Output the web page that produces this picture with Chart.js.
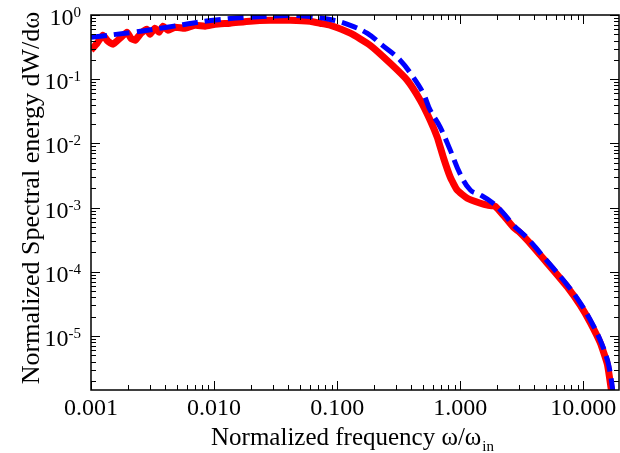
<!DOCTYPE html>
<html>
<head>
<meta charset="utf-8">
<script src="https://cdn.jsdelivr.net/npm/chart.js@4/dist/chart.umd.min.js"></script>
<style>
  html, body { margin: 0; padding: 0; background: #fff; }
  #wrap { width: 620px; height: 453px; position: relative; }
</style>
</head>
<body>
<div id="wrap"><canvas id="chart"></canvas></div>
<script>
// smooth model curve (blue dashed)
const freqModel = [0.001, 0.00219, 0.00415, 0.00982, 0.027, 0.05, 0.0877, 0.128, 0.175, 0.232, 0.325, 0.415, 0.5, 0.57, 0.687, 0.83, 1.0, 1.21, 1.46, 1.85, 2.24, 2.7, 3.51, 4.47, 5.7, 7.41, 9.46, 11.4, 13.7, 15.7, 16.9, 17.4];
const specModel = [0.45, 0.539, 0.646, 0.828, 0.956, 0.973, 0.85, 0.69, 0.52, 0.339, 0.198, 0.1074, 0.0605, 0.0329, 0.0179, 0.00785, 0.00332, 0.00187, 0.00157, 0.00117, 0.00082, 0.000533, 0.000334, 0.000196, 0.000114, 6.22e-5, 3.26e-5, 1.77e-5, 8.66e-6, 4.22e-6, 2.06e-6, 1.35e-6];

// simulated spectrum (red)
const freqSim = [0.001, 0.00112, 0.00125, 0.00137, 0.00151, 0.00172, 0.00196, 0.00211, 0.00228, 0.00255, 0.00285, 0.00302, 0.00331, 0.00357, 0.00385, 0.00423, 0.00482, 0.00581, 0.00701, 0.00845, 0.0102, 0.0135, 0.0196, 0.0285, 0.0415, 0.0603, 0.0727, 0.0877, 0.128, 0.185, 0.27, 0.371, 0.473, 0.57, 0.65, 0.728, 0.83, 0.946, 1.14, 1.46, 1.66, 1.92, 2.24, 2.7, 3.05, 3.51, 4.47, 5.7, 7.41, 9.46, 11.4, 13.7, 15.7, 16.9];
const specSim = [0.283, 0.363, 0.484, 0.391, 0.351, 0.435, 0.539, 0.435, 0.404, 0.52, 0.6, 0.501, 0.622, 0.539, 0.669, 0.579, 0.644, 0.622, 0.692, 0.669, 0.718, 0.744, 0.8, 0.828, 0.828, 0.8, 0.744, 0.692, 0.52, 0.338, 0.177, 0.0964, 0.0471, 0.023, 0.0125, 0.00611, 0.00298, 0.00187, 0.0014, 0.00117, 0.00109, 0.00105, 0.00076, 0.000495, 0.00041, 0.00031, 0.000182, 0.000106, 5.8e-5, 3.0e-5, 1.62e-5, 7.9e-6, 3.6e-6, 1.44e-6];

const xTickLabels = ['0.001', '0.010', '0.100', '1.000', '10.000'];
const xTickValues = [0.001, 0.01, 0.1, 1, 10];
const yTickExps = [0, -1, -2, -3, -4, -5];

const X_MIN = 0.001, X_MAX = 19.5;
const Y_MIN = 1.44e-6, Y_MAX = 1.0;
const serif = '"Liberation Serif", "DejaVu Serif", serif';

const toPoints = (xs, ys) => xs.map((x, i) => ({ x: x, y: ys[i] }));

// frame, inward ticks on all four sides, labels with superscripts / subscripts
const axesPlugin = {
  id: 'axesPlugin',
  afterDraw(chart) {
    const ctx = chart.ctx;
    const a = chart.chartArea;
    const xs = chart.scales.x, ys = chart.scales.y;
    ctx.save();
    ctx.strokeStyle = '#000';
    ctx.fillStyle = '#000';

    ctx.lineWidth = 1.5;
    ctx.strokeRect(a.left, a.top, a.right - a.left, a.bottom - a.top);

    ctx.lineWidth = 1;
    // x ticks
    for (let e = -3; e <= 1; e++) {
      for (let m = 1; m <= 9; m++) {
        const v = m * Math.pow(10, e);
        if (v < X_MIN || v > X_MAX) continue;
        const px = Math.round(xs.getPixelForValue(v)) + 0.5;
        const len = m === 1 ? 9 : 5;
        ctx.beginPath();
        ctx.moveTo(px, a.bottom); ctx.lineTo(px, a.bottom - len);
        ctx.moveTo(px, a.top); ctx.lineTo(px, a.top + len);
        ctx.stroke();
      }
    }
    // y ticks
    for (let e = -6; e <= 0; e++) {
      for (let m = 1; m <= 9; m++) {
        const v = m * Math.pow(10, e);
        if (v < Y_MIN || v > Y_MAX * 1.0001) continue;
        const py = Math.round(ys.getPixelForValue(v)) + 0.5;
        const len = m === 1 ? 9 : 5;
        ctx.beginPath();
        ctx.moveTo(a.left, py); ctx.lineTo(a.left + len, py);
        ctx.moveTo(a.right, py); ctx.lineTo(a.right - len, py);
        ctx.stroke();
      }
    }

    // x tick labels
    ctx.font = '24px ' + serif;
    ctx.textAlign = 'center';
    ctx.textBaseline = 'alphabetic';
    xTickValues.forEach((v, i) => {
      ctx.fillText(xTickLabels[i], xs.getPixelForValue(v), a.bottom + 25);
    });

    // y tick labels: 10 with superscript exponent
    yTickExps.forEach(exp => {
      const py = ys.getPixelForValue(Math.pow(10, exp));
      const sup = exp === 0 ? '0' : '-' + Math.abs(exp);
      ctx.font = '15px ' + serif;
      const wSup = ctx.measureText(sup).width;
      ctx.font = '24px ' + serif;
      const wBase = ctx.measureText('10').width;
      const right = a.left - 10;
      ctx.textAlign = 'left';
      ctx.fillText('10', right - wSup - wBase, py + 10);
      ctx.font = '15px ' + serif;
      ctx.fillText(sup, right - wSup, py + 2);
    });

    // x axis title with subscript
    ctx.font = '25px ' + serif;
    const main = 'Normalized frequency \u03c9/\u03c9';
    const wMain = ctx.measureText(main).width;
    ctx.font = '15px ' + serif;
    const wSub = ctx.measureText('in').width;
    const cx = (a.left + a.right) / 2 - 3;
    const x0 = cx - (wMain + wSub) / 2;
    ctx.font = '25px ' + serif;
    ctx.textAlign = 'left';
    ctx.fillText(main, x0, 445);
    ctx.font = '15px ' + serif;
    ctx.fillText('in', x0 + wMain + 1, 451);

    // y axis title
    ctx.save();
    ctx.translate(39, 198);
    ctx.rotate(-Math.PI / 2);
    ctx.font = '26px ' + serif;
    ctx.textAlign = 'center';
    ctx.fillText('Normalized Spectral energy dW/d\u03c9', 0, 0);
    ctx.restore();

    ctx.restore();
  }
};

new Chart(document.getElementById('chart'), {
  type: 'line',
  data: {
    datasets: [
      {
        label: 'model',
        data: toPoints(freqModel, specModel),
        borderColor: '#0000ff',
        borderWidth: 5,
        borderDash: [16, 7],
        pointRadius: 0,
        tension: 0.4,
        fill: false
      },
      {
        label: 'simulation',
        data: toPoints(freqSim, specSim),
        borderColor: '#ff0000',
        borderWidth: 7,
        pointRadius: 0,
        tension: 0.15,
        fill: false
      }
    ]
  },
  options: {
    responsive: true,
    maintainAspectRatio: false,
    animation: false,
    layout: { padding: { left: 91, top: 15, right: 1, bottom: 63 } },
    plugins: { legend: { display: false }, tooltip: { enabled: false } },
    scales: {
      x: { type: 'logarithmic', min: X_MIN, max: X_MAX, display: false },
      y: { type: 'logarithmic', min: Y_MIN, max: Y_MAX, display: false }
    }
  },
  plugins: [axesPlugin]
});
</script>
</body>
</html>
